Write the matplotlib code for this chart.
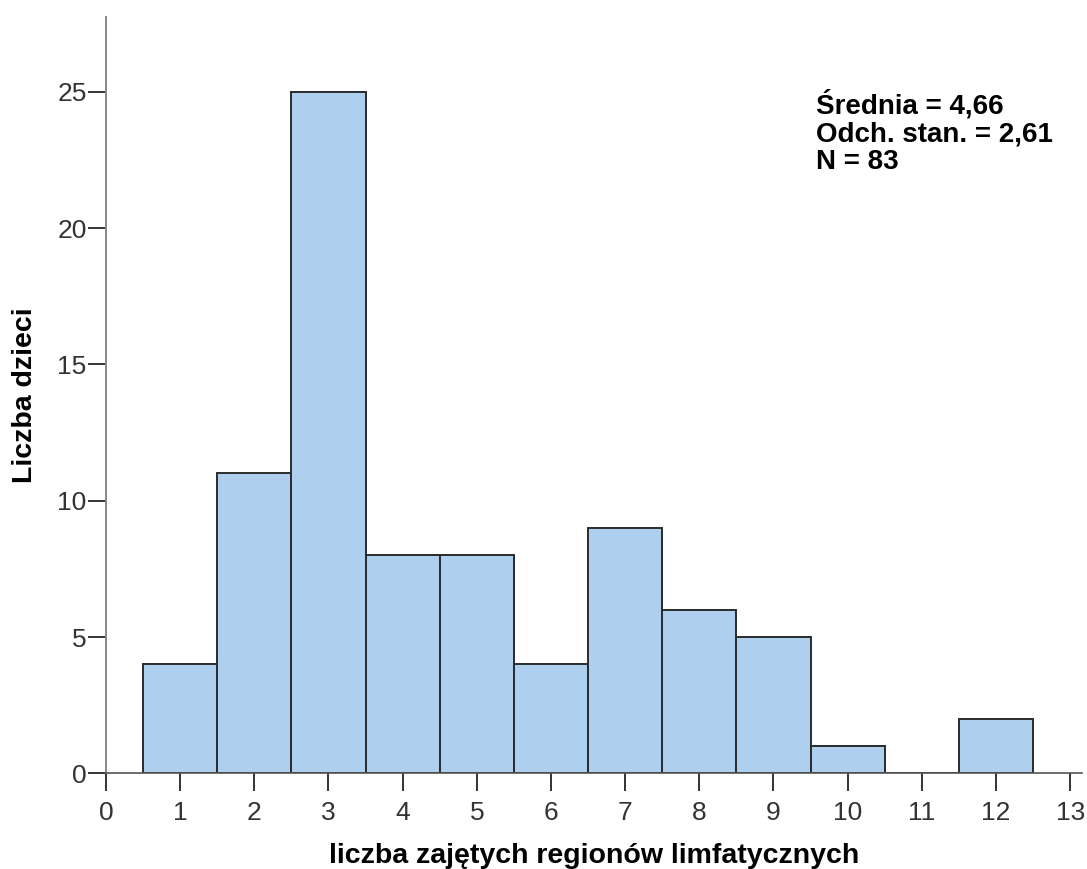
import matplotlib
matplotlib.use("Agg")
import matplotlib.pyplot as plt

values = [1, 2, 3, 4, 5, 6, 7, 8, 9, 10, 11, 12]
counts = [4, 11, 25, 8, 8, 4, 9, 6, 5, 1, 0, 2]
xticks = list(range(0, 14))
yticks = [0, 5, 10, 15, 20, 25]
stats_text = "Średnia = 4,66\nOdch. stan. = 2,61\nN = 83"
xlabel = "liczba zajętych regionów limfatycznych"
ylabel = "Liczba dzieci"

plt.rcParams['font.family'] = ['Liberation Sans', 'DejaVu Sans']

fig = plt.figure(figsize=(10.87, 8.69), dpi=100)
ax = fig.add_axes([0.0975, 0.1101, 0.8979, 0.8703])

ax.bar(values, counts, width=1.0, color='#AECFEE', edgecolor='#2b2b2b', linewidth=1.4, zorder=2)

ax.set_xlim(0, 13.16)
ax.set_ylim(0, 27.74)
ax.set_xticks(xticks)
ax.set_yticks(yticks)
ax.tick_params(axis='both', direction='out', length=13, width=1.4, color='#333333',
               labelsize=19, labelcolor='#333333')
ax.tick_params(axis='x', pad=7)
ax.tick_params(axis='y', pad=1)

for s in ['top', 'right']:
    ax.spines[s].set_visible(False)
ax.spines['left'].set_color('#888888')
ax.spines['left'].set_linewidth(1.4)
ax.spines['bottom'].set_color('#555555')
ax.spines['bottom'].set_linewidth(1.2)

ax.set_xlabel(xlabel, fontsize=20.5, fontweight='bold', labelpad=13)
ax.set_ylabel(ylabel, fontsize=20.5, fontweight='bold', labelpad=14)

fig.text(816 / 1087, 1 - 90 / 869, stats_text, fontsize=20, fontweight='bold',
         ha='left', va='top', linespacing=1.08)

fig.savefig('out.png', dpi=100)
